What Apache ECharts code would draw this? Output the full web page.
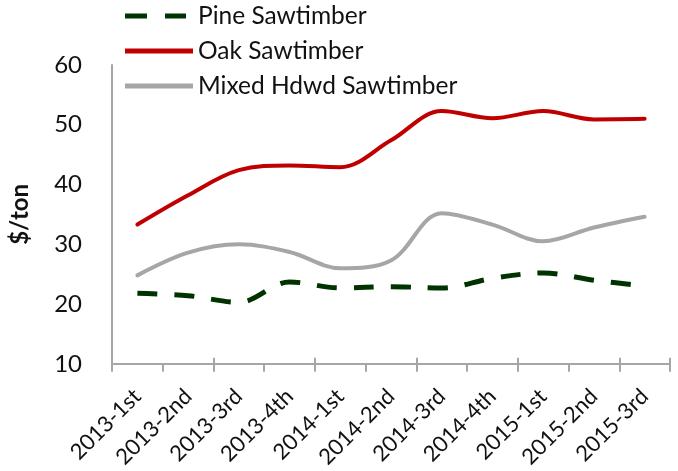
<!DOCTYPE html>
<html>
<head>
<meta charset="utf-8">
<script src="https://cdn.jsdelivr.net/npm/echarts@6/dist/echarts.min.js"></script>
<style>html,body{margin:0;padding:0;background:#fff;}#c{width:678px;height:471px;}</style>
</head>
<body>
<div id="c"></div>
<script>
const categories = ['2013-1st','2013-2nd','2013-3rd','2013-4th','2014-1st','2014-2nd','2014-3rd','2014-4th','2015-1st','2015-2nd','2015-3rd'];
const pine = [21.8, 21.4, 20.3, 23.7, 22.7, 22.9, 22.7, 24.3, 25.2, 24.0, 23.0];
const oak = [33.3, 38.2, 42.4, 43.2, 42.9, 47.4, 52.3, 51.1, 52.3, 50.9, 51.0];
const mixed = [24.8, 28.6, 30.0, 28.7, 26.0, 27.3, 35.2, 33.3, 30.5, 32.8, 34.6];
const yTicks = {min: 10, max: 60, interval: 10};

const font = 'Lato, "Liberation Sans", sans-serif';
const solidIcon = 'path://M0,0H68V5H0Z';
const dashIcon = 'path://M0,0H22V5H0Z M40,0H61V5H40Z M68,0L68,5';
const chart = echarts.init(document.getElementById('c'));
chart.setOption({
  animation: false,
  textStyle: {fontFamily: font},
  grid: {left: 112, right: 8, top: 65, bottom: 105, containLabel: false},
  legend: {
    orient: 'vertical', left: 125, top: 1, padding: 0,
    itemWidth: 68, itemHeight: 5, itemGap: 5,
    textStyle: {fontSize: 24.5, color: '#111', lineHeight: 30, fontFamily: font},
    data: [
      {name: 'Pine Sawtimber', icon: dashIcon},
      {name: 'Oak Sawtimber', icon: solidIcon},
      {name: 'Mixed Hdwd Sawtimber', icon: solidIcon}
    ]
  },
  xAxis: [{
    type: 'category', data: categories, boundaryGap: true,
    axisLine: {lineStyle: {color: '#a6a6a6', width: 2}},
    axisTick: {show: true, length: 8, lineStyle: {color: '#a6a6a6', width: 2}},
    axisLabel: {rotate: 45, fontSize: 22, color: '#111', margin: 29, fontFamily: font, interval: 0}
  }, {
    type: 'category', data: categories, boundaryGap: true, position: 'bottom',
    axisLine: {show: false},
    axisTick: {show: true, inside: true, length: 6, lineStyle: {color: '#a6a6a6', width: 2}},
    axisLabel: {show: false}
  }],
  yAxis: {
    type: 'value', min: yTicks.min, max: yTicks.max, interval: yTicks.interval,
    name: '$/ton', nameLocation: 'middle', nameGap: 80, nameRotate: 90,
    nameTextStyle: {fontSize: 24, fontWeight: 'bold', color: '#111', fontFamily: font},
    axisLine: {show: true, lineStyle: {color: '#a6a6a6', width: 2}},
    axisTick: {show: false},
    splitLine: {show: false},
    axisLabel: {fontSize: 24, color: '#111', margin: 30, fontFamily: font}
  },
  series: [
    {name: 'Pine Sawtimber', type: 'line', data: pine, smooth: 0.35, symbol: 'none',
     lineStyle: {color: '#003300', width: 5, type: [20, 17], cap: 'butt'}, itemStyle: {color: '#003300'}},
    {name: 'Oak Sawtimber', type: 'line', data: oak, smooth: 0.35, symbol: 'none',
     lineStyle: {color: '#c00000', width: 4, cap: 'round'}, itemStyle: {color: '#c00000'}},
    {name: 'Mixed Hdwd Sawtimber', type: 'line', data: mixed, smooth: 0.35, symbol: 'none',
     lineStyle: {color: '#a6a6a6', width: 4, cap: 'round'}, itemStyle: {color: '#a6a6a6'}}
  ]
});
</script>
</body>
</html>
